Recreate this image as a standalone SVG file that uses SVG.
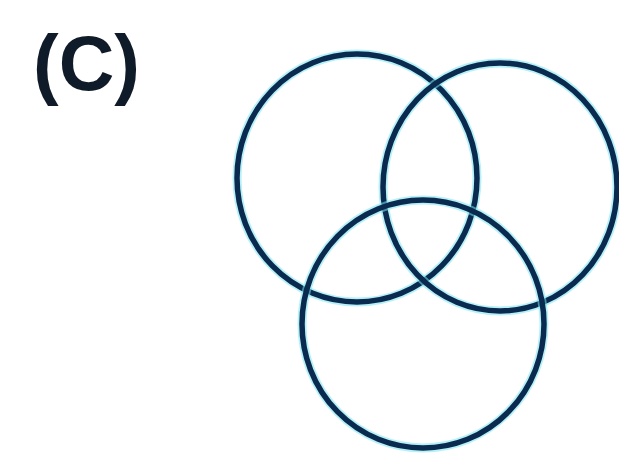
<svg xmlns="http://www.w3.org/2000/svg" width="619" height="458" viewBox="0 0 619 458">
  <style>
    .halo { fill: none; stroke: #7ae6f0; stroke-width: 9; stroke-opacity: 0.55; }
    .ring { fill: none; stroke: #0a2a50; stroke-width: 5.5; }
    .label { font-family: "Liberation Sans", Arial, sans-serif; font-weight: bold; font-size: 77px; fill: #0f1b29; }
  </style>
  <rect width="619" height="458" fill="#ffffff"/>
  <g id="label">
    <text class="label" x="33" y="90">(C)</text>
  </g>
  <g id="circle-left">
    <ellipse class="halo" cx="357" cy="178" rx="120" ry="124"/>
    <ellipse class="ring" cx="357" cy="178" rx="120" ry="124"/>
  </g>
  <g id="circle-right">
    <ellipse class="halo" cx="500" cy="187" rx="117" ry="124"/>
    <ellipse class="ring" cx="500" cy="187" rx="117" ry="124"/>
  </g>
  <g id="circle-bottom">
    <ellipse class="halo" cx="423" cy="324" rx="121" ry="124"/>
    <ellipse class="ring" cx="423" cy="324" rx="121" ry="124"/>
  </g>
  <g id="connectors"/>
</svg>
